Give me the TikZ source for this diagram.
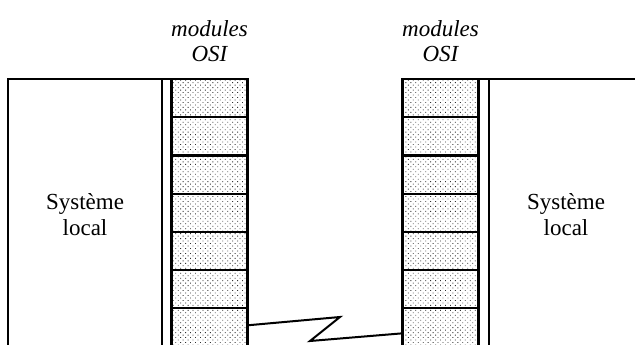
\documentclass[tikz,border=0pt]{standalone}
\usepackage{fontspec}
\setmainfont{Liberation Serif}
\usetikzlibrary{positioning,patterns.meta}

\tikzset{
  layer/.style={draw,line width=2.2pt,pattern={Dots[distance=3.5pt,angle=45,radius=0.6pt]},
    pattern color=black!80,minimum width=76pt,minimum height=38.2pt,inner sep=0pt,outer sep=0pt},
  sysbox/.style={draw,line width=2pt,minimum width=154pt,minimum height=272pt,
    inner sep=0pt,outer sep=0pt,align=center,font=\fontsize{23}{26}\selectfont,anchor=north west},
  strip/.style={draw,line width=2pt,minimum width=10pt,minimum height=272pt,
    inner sep=0pt,outer sep=0pt},
  modlabel/.style={align=center,font=\fontsize{23}{25}\selectfont\itshape},
  zig/.style={line width=2pt,line join=miter}
}

\begin{document}
\begin{tikzpicture}[x=1pt,y=-1pt]
\clip (0,0) rectangle (635,345);

% left system and its OSI stack
\node[sysbox] (sysL) at (8,79) {Système\\local};
\node[strip,anchor=north west] (gapL) at (sysL.north east) {};
\node[layer,anchor=north] (a1) at (209.5,79) {};
\foreach \i [count=\j from 2] in {1,...,6}
  \node[layer,below=0pt of a\i] (a\j) {};
\node[modlabel,above=14pt of a1] (modL) {modules\\OSI};

% right system and its OSI stack
\node[sysbox] (sysR) at (489,79) {Système\\local};
\node[strip,anchor=north east] (gapR) at (sysR.north west) {};
\node[layer,anchor=north] (b1) at (440.5,79) {};
\foreach \i [count=\j from 2] in {1,...,6}
  \node[layer,below=0pt of b\i] (b\j) {};
\node[modlabel,above=14pt of b1] (modR) {modules\\OSI};

% link between the two stacks
\coordinate (z1) at (340,317);
\coordinate (z2) at (310,341);
\draw[zig] (a7.3) -- (z1) -- (z2) -- (b7.189);
\end{tikzpicture}
\end{document}
